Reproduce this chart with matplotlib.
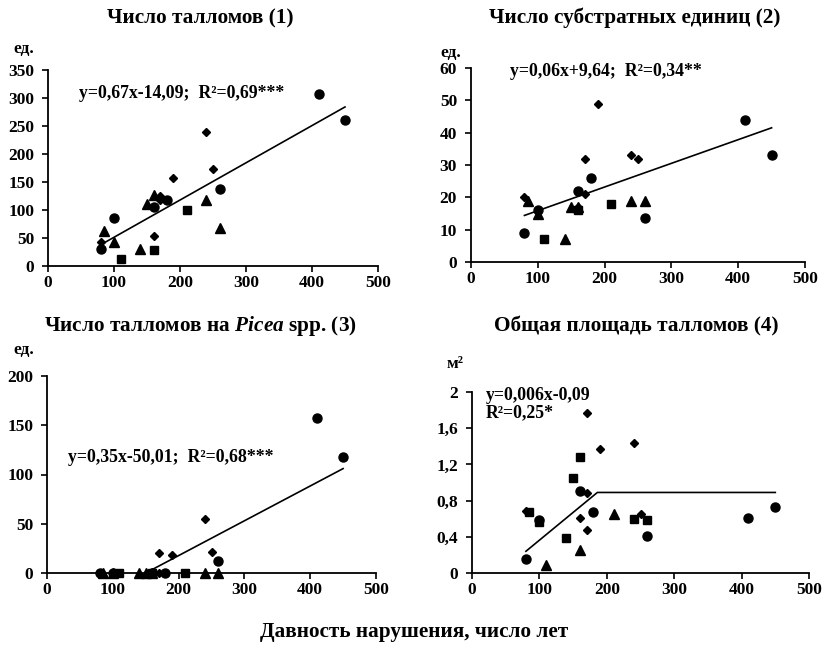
import matplotlib
matplotlib.use("Agg")
import matplotlib.pyplot as plt

plt.rcParams["font.family"] = ["Liberation Serif", "DejaVu Serif"]
plt.rcParams["font.weight"] = "bold"
plt.rcParams["mathtext.fontset"] = "custom"
plt.rcParams["mathtext.it"] = "Liberation Serif:italic:bold"
plt.rcParams["mathtext.rm"] = "Liberation Serif:bold"

W, H = 826, 647
TICK_FS = 12.5
TITLE_FS = 15.3
EQ_FS = 12.8
UNIT_FS = 12.5

X_TICKS = [0, 100, 200, 300, 400, 500]

# (1) number of thalli
n1_circle_x = [80, 100, 160, 180, 260, 410, 450]
n1_circle_y = [30, 85, 105, 117, 138, 307, 260]
n1_diamond_x = [80, 160, 170, 170, 190, 240, 250]
n1_diamond_y = [43, 53, 125, 117, 158, 240, 173]
n1_triangle_x = [85, 100, 140, 150, 160, 240, 260]
n1_triangle_y = [62, 43, 30, 110, 127, 117, 68]
n1_square_x = [110, 160, 210]
n1_square_y = [13, 28, 100]
n1_trend_x = [80, 450]
n1_trend_y = [38, 284]
n1_yticks = [0, 50, 100, 150, 200, 250, 300, 350]

# (2) number of substrate units
n2_circle_x = [80, 100, 160, 180, 260, 410, 450]
n2_circle_y = [9, 16, 22, 26, 13.5, 44, 33]
n2_diamond_x = [80, 160, 170, 170, 190, 240, 250]
n2_diamond_y = [20, 17, 21, 32, 49, 33, 32]
n2_triangle_x = [85, 100, 140, 150, 160, 240, 260]
n2_triangle_y = [19, 15, 7, 17, 17, 19, 19]
n2_square_x = [110, 160, 210]
n2_square_y = [7, 16, 18]
n2_trend_x = [80, 450]
n2_trend_y = [14.4, 41.5]
n2_yticks = [0, 10, 20, 30, 40, 50, 60]

# (3) thalli on Picea
n3_circle_x = [80, 100, 160, 180, 260, 410, 450]
n3_circle_y = [0, 0, 0, 0, 12, 157, 118]
n3_diamond_x = [80, 160, 170, 170, 190, 240, 250]
n3_diamond_y = [0, 0, 0, 20, 18, 55, 21]
n3_triangle_x = [85, 100, 140, 150, 160, 240, 260]
n3_triangle_y = [0, 0, 0, 0, 0, 0, 0]
n3_square_x = [110, 160, 210]
n3_square_y = [0, 0, 0]
n3_trend_x = [150, 450]
n3_trend_y = [0, 106]
n3_yticks = [0, 50, 100, 150, 200]

# (4) total area of thalli
n4_circle_x = [80, 100, 160, 180, 260, 410, 450]
n4_circle_y = [0.16, 0.59, 0.91, 0.67, 0.41, 0.61, 0.73]
n4_diamond_x = [80, 160, 170, 170, 170, 190, 240, 250]
n4_diamond_y = [0.69, 0.61, 0.88, 0.47, 1.77, 1.37, 1.44, 0.65]
n4_square_x = [85, 100, 140, 150, 160, 240, 260]
n4_square_y = [0.67, 0.56, 0.39, 1.05, 1.28, 0.60, 0.59]
n4_triangle_x = [110, 160, 210]
n4_triangle_y = [0.09, 0.25, 0.65]
n4_trend_x = [80, 186, 450]
n4_trend_y = [0.24, 0.89, 0.89]
n4_yticks = [0, 0.4, 0.8, 1.2, 1.6, 2.0]
n4_yticklabels = ["0", "0,4", "0,8", "1,2", "1,6", "2"]


def px_axes(fig, left, top, right, bottom):
    return fig.add_axes([left / W, 1 - bottom / H, (right - left) / W, (bottom - top) / H])


def style_axis(ax, yticks, ymax, yticklabels=None):
    ax.set_xlim(0, 500)
    ax.set_ylim(0, ymax)
    ax.set_xticks(X_TICKS)
    ax.set_yticks(yticks)
    if yticklabels is not None:
        ax.set_yticklabels(yticklabels)
    for s in ("top", "right"):
        ax.spines[s].set_visible(False)
    for s in ("left", "bottom"):
        ax.spines[s].set_linewidth(1.3)
    ax.tick_params(axis="x", direction="out", length=4, width=1.2, pad=2.5, labelsize=TICK_FS)
    ax.tick_params(axis="y", direction="out", length=4, width=1.2, pad=6, labelsize=TICK_FS)
    for lab in ax.get_xticklabels() + ax.get_yticklabels():
        lab.set_fontweight("bold")


def draw_points(ax, cx, cy, dx, dy, tx, ty, sx, sy, trx, try_):
    ax.plot(trx, try_, color="black", linewidth=1.2, zorder=2)
    kw = dict(linestyle="none", color="black", clip_on=False, zorder=3)
    ax.plot(cx, cy, marker="o", markersize=6.5, **kw)
    ax.plot(dx, dy, marker="D", markersize=4.3, **kw)
    ax.plot(tx, ty, marker="^", markersize=6.5, **kw)
    ax.plot(sx, sy, marker="s", markersize=6, **kw)


fig = plt.figure(figsize=(W / 100, H / 100), dpi=100)

ax1 = px_axes(fig, 48, 70, 378, 266)
style_axis(ax1, n1_yticks, 350)
draw_points(ax1, n1_circle_x, n1_circle_y, n1_diamond_x, n1_diamond_y,
            n1_triangle_x, n1_triangle_y, n1_square_x, n1_square_y, n1_trend_x, n1_trend_y)

ax2 = px_axes(fig, 471, 68, 805, 262)
style_axis(ax2, n2_yticks, 60)
draw_points(ax2, n2_circle_x, n2_circle_y, n2_diamond_x, n2_diamond_y,
            n2_triangle_x, n2_triangle_y, n2_square_x, n2_square_y, n2_trend_x, n2_trend_y)

ax3 = px_axes(fig, 47, 376, 376, 573)
style_axis(ax3, n3_yticks, 200)
draw_points(ax3, n3_circle_x, n3_circle_y, n3_diamond_x, n3_diamond_y,
            n3_triangle_x, n3_triangle_y, n3_square_x, n3_square_y, n3_trend_x, n3_trend_y)

ax4 = px_axes(fig, 472, 392, 809, 573)
style_axis(ax4, n4_yticks, 2.0, n4_yticklabels)
draw_points(ax4, n4_circle_x, n4_circle_y, n4_diamond_x, n4_diamond_y,
            n4_triangle_x, n4_triangle_y, n4_square_x, n4_square_y, n4_trend_x, n4_trend_y)


def ftext(x, y, s, size=EQ_FS, ha="left"):
    fig.text(x / W, 1 - y / H, s, fontsize=size, fontweight="bold", ha=ha, va="center")


# titles
ftext(200, 18, "Число талломов (1)", TITLE_FS, "center")
ftext(635, 18, "Число субстратных единиц (2)", TITLE_FS, "center")
ftext(200, 326, r"Число талломов на $\mathit{Picea}$ spp. (3)", TITLE_FS, "center")
ftext(636, 326, "Общая площадь талломов (4)", TITLE_FS, "center")

# units
ftext(13, 49, "ед.", UNIT_FS)
ftext(440, 53, "ед.", UNIT_FS)
ftext(13, 350, "ед.", UNIT_FS)
ftext(447, 364, "м²", UNIT_FS)

# equations
ftext(79, 94, "y=0,67x-14,09;  R²=0,69***")
ftext(510, 72, "y=0,06x+9,64;  R²=0,34**")
ftext(68, 457, "y=0,35x-50,01;  R²=0,68***")
ftext(486, 395, "y=0,006x-0,09")
ftext(486, 413, "R²=0,25*")

ftext(414, 632, "Давность нарушения, число лет", TITLE_FS, "center")

fig.savefig("out.png", dpi=100)
